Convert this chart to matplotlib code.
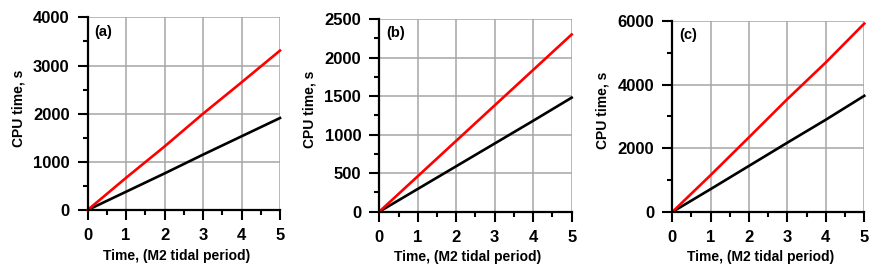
import matplotlib.pyplot as plt
from matplotlib.ticker import MultipleLocator

plt.rcParams['font.family'] = ['Liberation Sans', 'DejaVu Sans']
plt.rcParams['font.weight'] = 'bold'

# time in M2 tidal periods
periods = [0, 1, 2, 3, 4, 5]

# CPU time (s)
cpu_red_a = [0, 670, 1320, 2000, 2650, 3310]
cpu_black_a = [0, 380, 760, 1150, 1530, 1910]
cpu_red_b = [0, 460, 920, 1380, 1840, 2300]
cpu_black_b = [0, 295, 590, 885, 1180, 1480]
cpu_red_c = [0, 1160, 2350, 3550, 4700, 5920]
cpu_black_c = [0, 720, 1450, 2180, 2900, 3650]

panel_tags = ["(a)", "(b)", "(c)"]
y_max = [4000, 2500, 6000]
y_major = [1000, 500, 2000]
y_minor = [500, 250, 1000]

fig = plt.figure(figsize=(8.81, 2.76), dpi=100)
boxes = [
    [0.0995, 0.2391, 0.2183, 0.698],
    [0.4305, 0.2330, 0.2184, 0.698],
    [0.7631, 0.2319, 0.2179, 0.692],
]
series = [(cpu_red_a, cpu_black_a), (cpu_red_b, cpu_black_b), (cpu_red_c, cpu_black_c)]

for i, box in enumerate(boxes):
    ax = fig.add_axes(box)
    red, black = series[i]
    ax.plot(periods, black, color='black', lw=1.9, zorder=3, clip_on=False)
    ax.plot(periods, red, color='red', lw=1.9, zorder=4, clip_on=False)

    ax.set_xlim(0, 5)
    ax.set_ylim(0, y_max[i])
    ax.xaxis.set_major_locator(MultipleLocator(1))
    ax.xaxis.set_minor_locator(MultipleLocator(0.5))
    ax.yaxis.set_major_locator(MultipleLocator(y_major[i]))
    ax.yaxis.set_minor_locator(MultipleLocator(y_minor[i]))

    ax.grid(True, which='major', color='#a6a6a6', lw=1.1)
    ax.set_axisbelow(True)
    for side in ['top', 'right']:
        ax.spines[side].set_visible(False)
    for side in ['left', 'bottom']:
        ax.spines[side].set_linewidth(1.6)
        ax.spines[side].set_zorder(5)

    ax.tick_params(which='major', direction='out', length=7, width=1.5,
                   labelsize=12, pad=6)
    ax.tick_params(which='minor', direction='out', length=3.6, width=1.5)

    ax.set_ylabel("CPU time, s", fontsize=10, fontweight='bold')
    ax.yaxis.set_label_coords(-0.325, 0.53)
    ax.set_xlabel("Time, (M2 tidal period)", fontsize=10, fontweight='bold')
    ax.xaxis.set_label_coords(0.46, -0.2)

    ax.text(0.035, 0.925, panel_tags[i], transform=ax.transAxes,
            fontsize=10.5, fontweight='bold', va='center', ha='left')

fig.savefig("out.png", dpi=100)
